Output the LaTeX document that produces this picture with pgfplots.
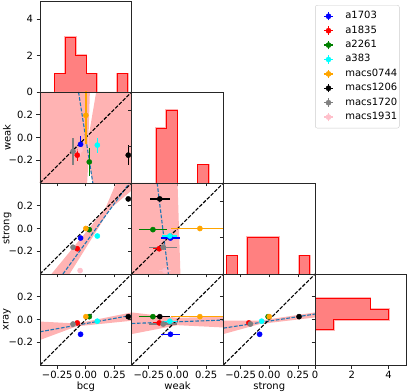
\documentclass[border=0pt]{standalone}
\usepackage{fontspec}
\setmainfont{DejaVu Sans}
\usepackage{pgfplots}
\pgfplotsset{compat=1.18}

\definecolor{mplblue}{RGB}{31,119,180}
\definecolor{mplgreen}{RGB}{0,128,0}
\definecolor{mplcyan}{RGB}{0,255,255}
\definecolor{mplorange}{RGB}{255,165,0}
\definecolor{mplgray}{RGB}{128,128,128}
\definecolor{mplpink}{RGB}{255,192,203}
\definecolor{band}{RGB}{255,179,179}
\definecolor{histfill}{RGB}{255,128,128}

% one point, with error on y, on x, or none
\newcommand{\ey}[3]{\addplot[only marks, mark=*, mark size=2.6pt, color=#1,
  error bars/.cd, y dir=both, y explicit, error mark=none,
  error bar style={line width=1.4pt, color=#1}] coordinates {(#2) +- (0,#3)};}
\newcommand{\ex}[3]{\addplot[only marks, mark=*, mark size=2.6pt, color=#1,
  error bars/.cd, x dir=both, x explicit, error mark=none,
  error bar style={line width=1.4pt, color=#1}] coordinates {(#2) +- (#3,0)};}
\newcommand{\pt}[2]{\addplot[only marks, mark=*, mark size=2.6pt, color=#1] coordinates {(#2)};}

\pgfplotsset{
  panel/.style={scale only axis, width=91.7pt, height=91pt, anchor=south west,
    axis on top, clip=true,
    axis line style={black!85, line width=0.8pt},
    tick align=outside, tick pos=left, major tick length=3.5pt,
    every tick/.style={black!85, line width=0.8pt},
    tick label style={font=\fontsize{10}{12}\selectfont},
    xticklabel style={yshift=1pt},
    label style={font=\fontsize{10}{12}\selectfont},
    xticklabels={}, yticklabels={}},
  sq/.style={panel, xmin=-0.4, xmax=0.4, ymin=-0.4, ymax=0.4,
    xtick={-0.25,0,0.25}, ytick={-0.2,0,0.2}},
  xlab/.style={xticklabels={−0.25,0.00,0.25}, xlabel={#1},
    xlabel style={at={(axis description cs:0.5,-0.265)}, anchor=base}},
  ylab/.style={yticklabels={−0.2,0.0,0.2}, ylabel={#1},
    ylabel style={at={(axis description cs:-0.36,0.5)}, anchor=center}},
  halo/.style={forget plot, draw=band, line width=2.5pt},
  hist/.style={forget plot, draw=red, fill=histfill, line width=1pt},
  bandfill/.style={forget plot, fill=band, draw=none},
  fitline/.style={forget plot, mplblue, line width=1.1pt, dash pattern=on 3.7pt off 1.6pt},
  oneone/.style={forget plot, black, line width=1.1pt, dash pattern=on 3.7pt off 1.6pt},
}

\begin{document}
\begin{tikzpicture}
\useasboundingbox (0,0) rectangle (407pt,391pt);

% ---- row 0: bcg histogram + legend
\begin{axis}[panel, at={(40pt,299pt)}, xmin=-0.4, xmax=0.4, ymin=0, ymax=5,
  xtick={-0.25,0,0.25}, ytick={0,2,4}, yticklabels={0,2,4},
  legend cell align=left,
  legend style={at={(axis description cs:3.0,0.955)}, anchor=north west,
    draw=black!20, rounded corners=2pt, fill=white,
    font=\fontsize{10}{12}\selectfont, inner xsep=1pt, inner ysep=4.5pt,
    row sep=1.4pt,
    nodes={inner xsep=1pt, inner ysep=1.5pt, text height=7.5pt, text depth=2.5pt}},
  legend image code/.code={
    \path[draw=none, fill=none] (-8pt,0pt) -- (20pt,0pt);
    \draw[#1, line width=1.3pt] (0pt,0pt) -- (8.4pt,0pt) (4.2pt,-4.2pt) -- (4.2pt,4.2pt);
    \fill[#1] (4.2pt,0pt) circle (2.6pt);}]
\addplot[halo] coordinates {(-0.27,0)(-0.27,1)(-0.179,1)(-0.179,3)(-0.088,3)(-0.088,2)(0.003,2)(0.003,1)(0.094,1)(0.094,0)};
\addplot[halo] coordinates {(0.276,0)(0.276,1)(0.367,1)(0.367,0)};
\addplot[hist] coordinates {(-0.27,0)(-0.27,1)(-0.179,1)(-0.179,3)(-0.088,3)(-0.088,2)(0.003,2)(0.003,1)(0.094,1)(0.094,0)};
\addplot[hist] coordinates {(0.276,0)(0.276,1)(0.367,1)(0.367,0)};
\addlegendimage{blue}\addlegendentry{a1703}
\addlegendimage{red}\addlegendentry{a1835}
\addlegendimage{mplgreen}\addlegendentry{a2261}
\addlegendimage{mplcyan}\addlegendentry{a383}
\addlegendimage{mplorange}\addlegendentry{macs0744}
\addlegendimage{black}\addlegendentry{macs1206}
\addlegendimage{mplgray}\addlegendentry{macs1720}
\addlegendimage{mplpink}\addlegendentry{macs1931}
\end{axis}

% ---- row 1: weak vs bcg
\begin{axis}[sq, ylab=weak, at={(40pt,208pt)}]
\addplot[bandfill] coordinates {(-0.4,0.4)(0.035,0.4)(0.023,0.0)(0.023,-0.2)(0.011,-0.4)(-0.4,-0.4)};
\addplot[bandfill] coordinates {(0.09,0.4)(0.4,0.4)(0.4,-0.4)(0.06,-0.4)(0.023,-0.2)(0.023,0.0)};
\addplot[fitline] coordinates {(-0.064,0.4)(0.061,-0.4)};
\addplot[oneone] coordinates {(-0.4,-0.4)(0.4,0.4)};
\ey{blue}{-0.046,-0.060}{0.07}
\ey{red}{-0.075,-0.155}{0.05}
\ey{mplgreen}{0.030,-0.215}{0.12}
\ey{mplcyan}{0.100,-0.067}{0.065}
\ey{mplorange}{0.000,0.195}{0.25}
\ey{black}{0.370,-0.155}{0.085}
\ey{mplgray}{-0.112,-0.122}{0.12}
\ey{mplpink}{-0.050,-0.110}{0.05}
\end{axis}

% weak histogram
\begin{axis}[panel, at={(131.7pt,208pt)}, xmin=-0.4, xmax=0.4, ymin=0, ymax=5,
  xtick={-0.25,0,0.25}, ytick={0,2,4}]
\addplot[halo] coordinates {(-0.186,0)(-0.186,3)(-0.095,3)(-0.095,4)(-0.004,4)(-0.004,0)};
\addplot[halo] coordinates {(0.177,0)(0.177,1)(0.268,1)(0.268,0)};
\addplot[hist] coordinates {(-0.186,0)(-0.186,3)(-0.095,3)(-0.095,4)(-0.004,4)(-0.004,0)};
\addplot[hist] coordinates {(0.177,0)(0.177,1)(0.268,1)(0.268,0)};
\end{axis}

% ---- row 2: strong vs bcg
\begin{axis}[sq, ylab=strong, at={(40pt,117pt)}]
\addplot[bandfill] coordinates {(-0.30,-0.4)(0.17,0.176)(0.264,0.4)(0.4,0.4)(0.4,0.335)(0.215,0.176)(-0.142,-0.4)};
\addplot[fitline] coordinates {(-0.2,-0.4)(0.38,0.4)};
\addplot[oneone] coordinates {(-0.4,-0.4)(0.4,0.4)};
\pt{blue}{-0.046,-0.084}
\pt{red}{-0.075,-0.178}
\pt{mplgreen}{0.030,-0.010}
\pt{mplcyan}{0.100,-0.066}
\pt{mplorange}{0.000,0.000}
\pt{black}{0.370,0.260}
\pt{mplgray}{-0.112,-0.165}
\pt{mplpink}{-0.050,-0.370}
\end{axis}

% strong vs weak
\begin{axis}[sq, at={(131.7pt,117pt)}]
\addplot[bandfill] coordinates {(-0.4,0.4)(0.0,0.4)(0.025,-0.4)(-0.4,-0.4)};
\addplot[fitline] coordinates {(-0.178,0.4)(-0.08,-0.4)};
\addplot[oneone] coordinates {(-0.4,-0.4)(0.4,0.4)};
\ex{blue}{-0.062,-0.084}{0.08}
\ex{red}{-0.160,-0.178}{0.05}
\ex{mplgreen}{-0.215,-0.010}{0.12}
\ex{mplcyan}{-0.067,-0.066}{0.065}
\ex{mplorange}{0.195,0.000}{0.25}
\ex{black}{-0.155,0.260}{0.085}
\ex{mplgray}{-0.125,-0.165}{0.12}
\ex{mplpink}{-0.110,-0.370}{0.05}
\end{axis}

% strong histogram
\begin{axis}[panel, at={(223.4pt,117pt)}, xmin=-0.4, xmax=0.4, ymin=0, ymax=5,
  xtick={-0.25,0,0.25}, ytick={0,2,4}]
\addplot[halo] coordinates {(-0.37,0)(-0.37,1)(-0.28,1)(-0.28,0)};
\addplot[halo] coordinates {(-0.19,0)(-0.19,2)(0.08,2)(0.08,0)};
\addplot[halo] coordinates {(0.26,0)(0.26,1)(0.35,1)(0.35,0)};
\addplot[hist] coordinates {(-0.37,0)(-0.37,1)(-0.28,1)(-0.28,0)};
\addplot[hist] coordinates {(-0.19,0)(-0.19,2)(0.08,2)(0.08,0)};
\addplot[hist] coordinates {(0.26,0)(0.26,1)(0.35,1)(0.35,0)};
\end{axis}

% ---- row 3: xray vs bcg
\begin{axis}[sq, ylab=xray, xlab=bcg, at={(40pt,26pt)}]
\addplot[bandfill] coordinates {(-0.4,-0.018)(-0.08,-0.035)(0.4,0.062)(0.4,-0.011)(-0.08,-0.06)(-0.4,-0.18)};
\addplot[fitline] coordinates {(-0.4,-0.108)(0.4,0.037)};
\addplot[oneone] coordinates {(-0.4,-0.4)(0.4,0.4)};
\pt{blue}{-0.046,-0.130}
\pt{red}{-0.075,-0.030}
\pt{mplgreen}{0.030,0.025}
\pt{mplcyan}{0.100,-0.015}
\pt{mplorange}{0.000,0.025}
\pt{black}{0.370,0.025}
\pt{mplgray}{-0.112,-0.040}
\end{axis}

% xray vs weak
\begin{axis}[sq, xlab=weak, at={(131.7pt,26pt)}]
\addplot[bandfill] coordinates {(-0.4,0.062)(0.0,0.015)(0.4,0.025)(0.4,-0.07)(0.0,-0.05)(-0.4,-0.128)};
\addplot[fitline] coordinates {(-0.4,-0.035)(0.4,-0.005)};
\addplot[oneone] coordinates {(-0.4,-0.4)(0.4,0.4)};
\ex{blue}{-0.062,-0.130}{0.08}
\ex{red}{-0.160,-0.030}{0.05}
\ex{mplgreen}{-0.215,0.025}{0.12}
\ex{mplcyan}{-0.067,-0.015}{0.065}
\ex{mplorange}{0.195,0.025}{0.25}
\ex{black}{-0.155,0.025}{0.085}
\ex{mplgray}{-0.125,-0.040}{0.12}
\end{axis}

% xray vs strong
\begin{axis}[sq, xlab=strong, at={(223.4pt,26pt)}]
\addplot[bandfill] coordinates {(-0.4,-0.011)(-0.083,-0.01)(0.4,0.062)(0.4,0.018)(-0.083,-0.04)(-0.4,-0.128)};
\addplot[fitline] coordinates {(-0.4,-0.076)(0.4,0.048)};
\addplot[oneone] coordinates {(-0.4,-0.4)(0.4,0.4)};
\pt{blue}{-0.084,-0.130}
\pt{red}{-0.178,-0.030}
\pt{mplgreen}{-0.010,0.025}
\pt{mplcyan}{-0.066,-0.015}
\pt{mplorange}{0.000,0.025}
\pt{black}{0.260,0.025}
\pt{mplgray}{-0.165,-0.040}
\end{axis}

% xray histogram (horizontal)
\begin{axis}[panel, at={(315.1pt,26pt)}, xmin=0, xmax=5, ymin=-0.4, ymax=0.4,
  xtick={0,2,4}, xticklabels={0,2,4}, ytick={-0.2,0,0.2}]
\addplot[halo] coordinates {(0,-0.092)(1,-0.092)(1,0)(4,0)(4,0.092)(3,0.092)(3,0.184)(0,0.184)};
\addplot[hist] coordinates {(0,-0.092)(1,-0.092)(1,0)(4,0)(4,0.092)(3,0.092)(3,0.184)(0,0.184)};
\end{axis}

\end{tikzpicture}
\end{document}
